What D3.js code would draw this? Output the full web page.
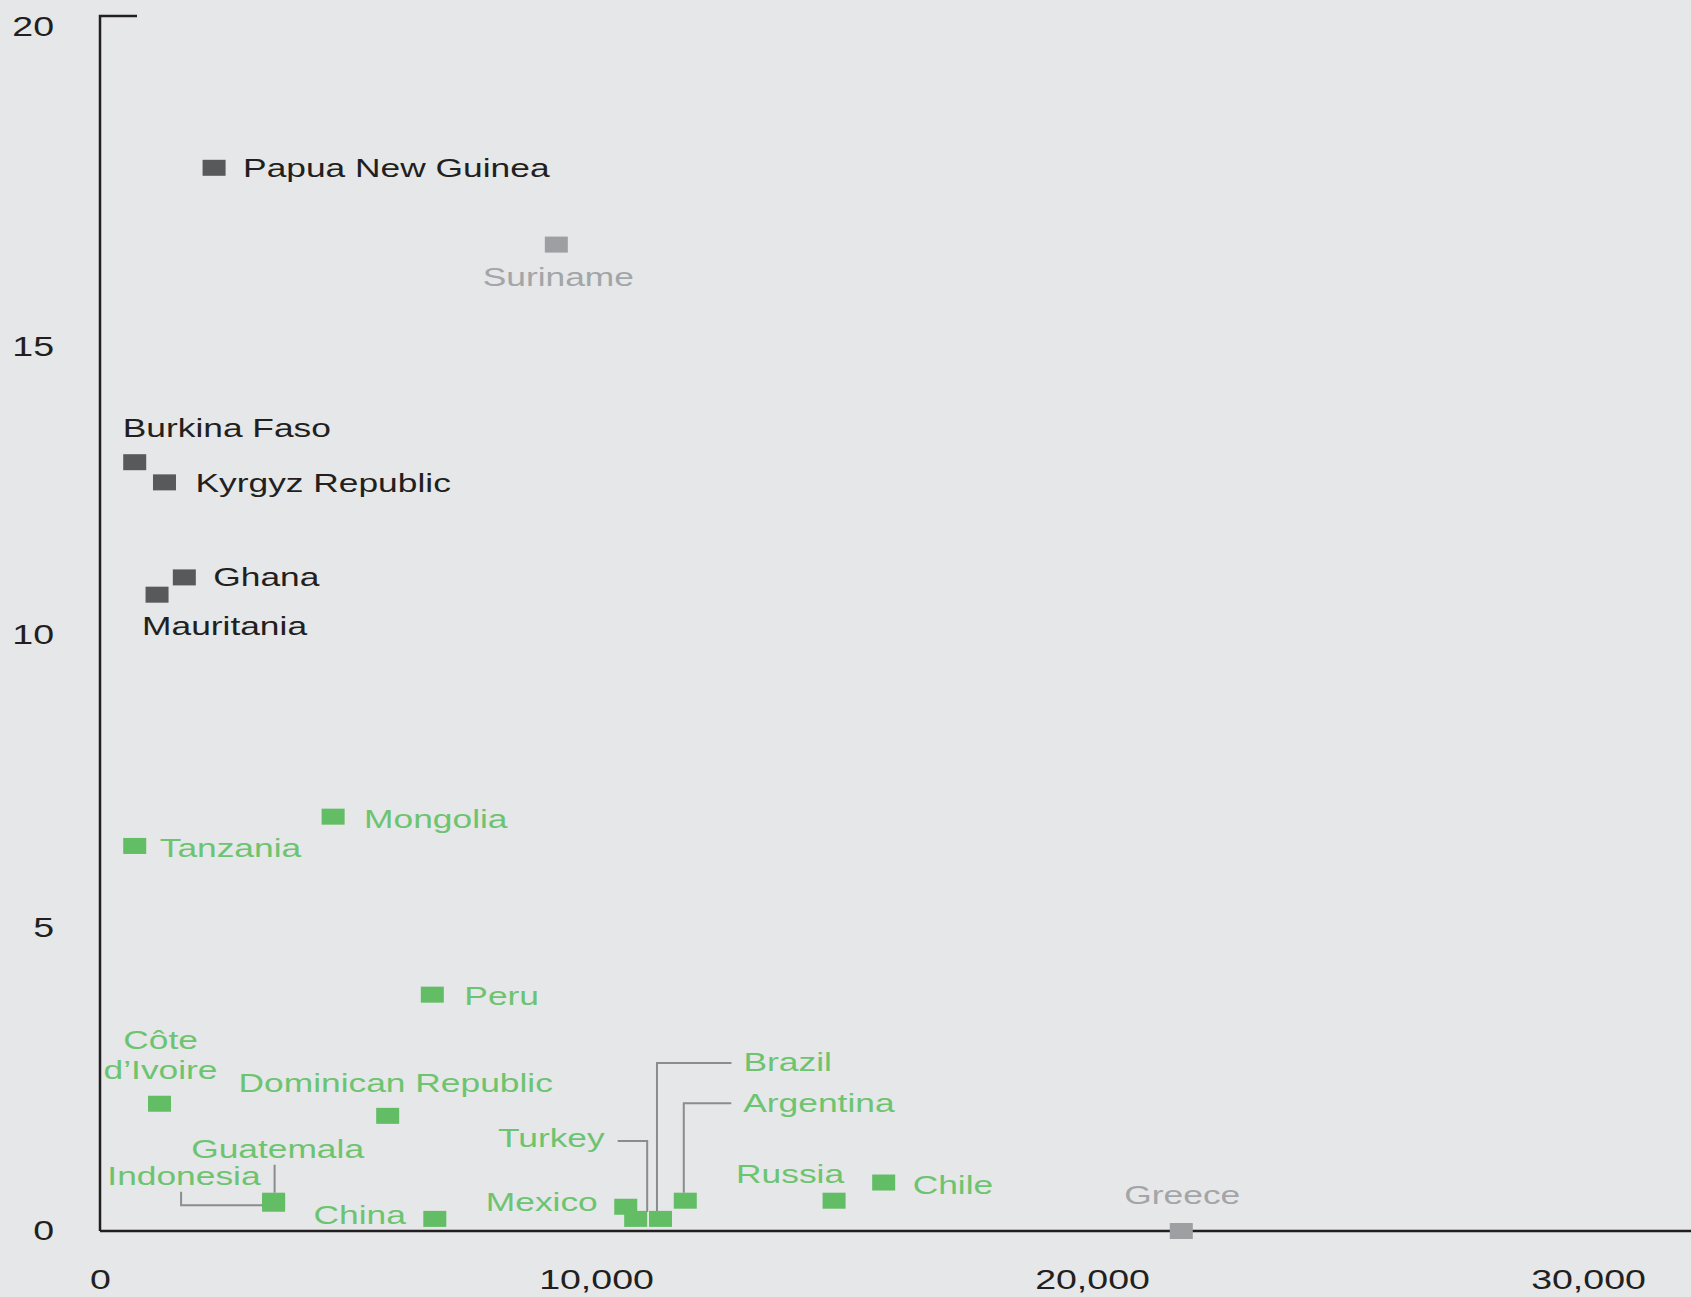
<!DOCTYPE html>
<html>
<head>
<meta charset="utf-8">
<script src="https://cdn.jsdelivr.net/npm/d3@7"></script>
<style>
  body { margin: 0; background: #e6e7e8; }
  svg { display: block; }
  text { font-family: "Liberation Sans", Arial, sans-serif; }
</style>
</head>
<body>
<div id="chart"></div>
<script>
// values
var countries = ["Papua New Guinea", "Suriname", "Burkina Faso", "Kyrgyz Republic", "Ghana", "Mauritania",
    "Mongolia", "Tanzania", "Peru", "Côte d’Ivoire", "Dominican Republic", "Guatemala", "Indonesia",
    "China", "Mexico", "Turkey", "Brazil", "Argentina", "Russia", "Chile", "Greece"];
var xValues = [2300, 9200, 700, 1300, 1700, 1150, 4700, 700, 6700, 1200, 5800, 3500, 3500,
    6750, 10600, 10800, 11300, 11800, 14800, 15800, 21800];
var yValues = [17.8, 16.6, 13.0, 12.65, 11.0, 10.7, 6.9, 6.4, 3.9, 2.1, 1.9, 0.5, 0.45,
    0.2, 0.4, 0.2, 0.2, 0.5, 0.5, 0.8, 0.0];
var groups = ["dark", "light", "dark", "dark", "dark", "dark",
    "green", "green", "green", "green", "green", "green", "green",
    "green", "green", "green", "green", "green", "green", "green", "light"];
var xTicks = [0, 10000, 20000, 30000];
var yTicks = [0, 5, 10, 15, 20];

var data = countries.map(function(c, i){
    return { name: c, x: xValues[i], y: yValues[i], group: groups[i] };
});

var fill = { dark: "#58595b", light: "#9d9fa2", green: "#62bd65" };
var textFill = { dark: "#231f20", light: "#a3a5a8", green: "#6dc470" };

// label placement relative to the square centre
var labelPos = {
    "Papua New Guinea":   { dx: 29,  dy: 9.5, anchor: "start" },
    "Suriname":           { dx: 2,   dy: 41,  anchor: "middle" },
    "Burkina Faso":       { dx: -12, dy: -25, anchor: "start" },
    "Kyrgyz Republic":    { dx: 31,  dy: 9.5, anchor: "start" },
    "Ghana":              { dx: 29,  dy: 9,   anchor: "start" },
    "Mauritania":         { dx: -15, dy: 40,  anchor: "start" },
    "Mongolia":           { dx: 31,  dy: 11,  anchor: "start" },
    "Tanzania":           { dx: 25,  dy: 11,  anchor: "start" },
    "Peru":               { dx: 32,  dy: 10,  anchor: "start" },
    "Côte d’Ivoire":      { dx: 1,   dy: -54.5, anchor: "middle", lines: ["Côte", "d’Ivoire"] },
    "Dominican Republic": { dx: 8,   dy: -24, anchor: "middle" },
    "Guatemala":          { dx: 4,   dy: -43, anchor: "middle" },
    "Indonesia":          { dx: -13, dy: -18.5, anchor: "end" },
    "China":              { dx: -29, dy: 5,   anchor: "end" },
    "Mexico":             { dx: -28, dy: 4,   anchor: "end" },
    "Turkey":             { dx: -31, dy: -72, anchor: "end" },
    "Brazil":             { dx: 83,  dy: -148, anchor: "start" },
    "Argentina":          { dx: 58,  dy: -89, anchor: "start" },
    "Russia":             { dx: 10,  dy: -18, anchor: "end" },
    "Chile":              { dx: 29,  dy: 11,  anchor: "start" },
    "Greece":             { dx: 1,   dy: -27, anchor: "middle" }
};

var leaders = {
    "Guatemala": [[1, -36], [1, -8]],
    "Indonesia": [[-92.5, -12], [-92.5, 1.5], [-11, 1.5]],
    "Turkey":    [[-18, -78], [11.5, -78], [11.5, -7]],
    "Brazil":    [[71, -156], [-3.5, -156], [-3.5, -7]],
    "Argentina": [[46, -97.5], [-1.5, -97.5], [-1.5, -8]]
};

var W = 1691, H = 1297;
var tickStretch = 1.34, labelStretch = 1.36;
var sqW = 23, sqH = 16;

var svg = d3.select("#chart").append("svg")
    .attr("width", W)
    .attr("height", H);

svg.append("rect").attr("width", W).attr("height", H).attr("fill", "#e6e7e8");

var x = d3.scaleLinear().domain([0, 30000]).range([100, 1588]);
// tick labels in the picture are not evenly spaced, so the scale is piecewise
var y = d3.scaleLinear().domain(yTicks).range([1231, 928, 635, 347, 27]);

// axes (labels only, lines drawn below)
var yAxis = d3.axisLeft(y).tickValues(yTicks).tickSize(0).tickPadding(46);
var xAxis = d3.axisBottom(x).tickValues(xTicks).tickSize(0).tickPadding(38).tickFormat(d3.format(","));

var gy = svg.append("g").attr("transform", "translate(100,0)").call(yAxis);
var gx = svg.append("g").attr("transform", "translate(0,1231)").call(xAxis);

[gy, gx].forEach(function(g){
    g.select(".domain").remove();
    g.selectAll("text")
        .attr("font-family", "Liberation Sans, Arial, sans-serif")
        .attr("font-size", 28)
        .attr("fill", "#231f20")
        .attr("x", function(){ return +d3.select(this).attr("x") / tickStretch; })
        .attr("transform", "scale(" + tickStretch + ",1)");
});

svg.append("path")
    .attr("d", "M100,1231V16H137")
    .attr("fill", "none")
    .attr("stroke", "#231f20")
    .attr("stroke-width", 2.5);
svg.append("path")
    .attr("d", "M100,1231H" + W)
    .attr("fill", "none")
    .attr("stroke", "#231f20")
    .attr("stroke-width", 2.5);

// leader lines
var line = d3.line();
data.filter(function(d){ return leaders[d.name]; }).forEach(function(d){
    var cx = x(d.x), cy = y(d.y);
    svg.append("path")
        .attr("d", line(leaders[d.name].map(function(p){ return [cx + p[0], cy + p[1]]; })))
        .attr("fill", "none")
        .attr("stroke", "#8a8c8f")
        .attr("stroke-width", 2);
});

// squares
svg.append("g").selectAll("rect")
    .data(data)
    .enter().append("rect")
    .attr("x", function(d){ return x(d.x) - sqW / 2; })
    .attr("y", function(d){ return y(d.y) - sqH / 2; })
    .attr("width", sqW)
    .attr("height", sqH)
    .attr("fill", function(d){ return fill[d.group]; });

// labels
var labels = svg.append("g").selectAll("text")
    .data(data)
    .enter().append("text")
    .attr("transform", function(d){
        var p = labelPos[d.name];
        return "translate(" + (x(d.x) + p.dx) + "," + (y(d.y) + p.dy) + ") scale(" + labelStretch + ",1)";
    })
    .attr("text-anchor", function(d){ return labelPos[d.name].anchor; })
    .attr("font-size", 26)
    .attr("fill", function(d){ return textFill[d.group]; });

labels.each(function(d){
    var lines = labelPos[d.name].lines || [d.name];
    var t = d3.select(this);
    lines.forEach(function(l, i){
        t.append("tspan").attr("x", 0).attr("dy", i == 0 ? 0 : 30).text(l);
    });
});
</script>
</body>
</html>
